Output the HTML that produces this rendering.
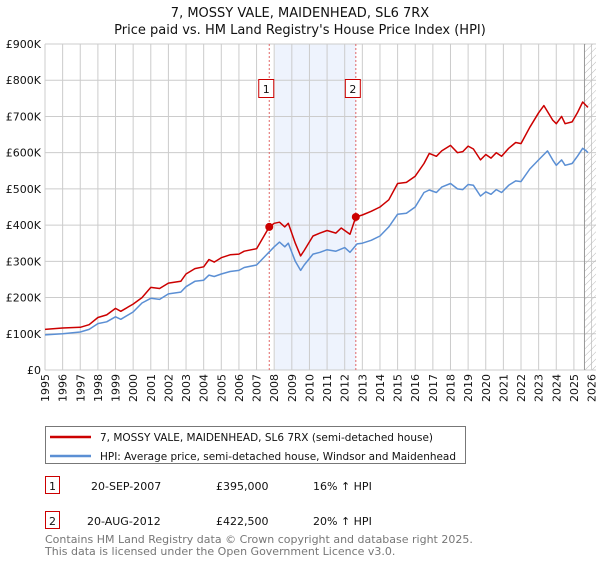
<!DOCTYPE html>
<html><head><meta charset="utf-8"><style>
body{margin:0;background:#fff;font-family:"Liberation Sans","DejaVu Sans",sans-serif}
svg text{font-family:"DejaVu Sans","Liberation Sans",sans-serif}
</style></head><body>
<svg id="c" width="600" height="560" xmlns="http://www.w3.org/2000/svg">
<defs><pattern id="hatch" width="5" height="5" patternUnits="userSpaceOnUse" patternTransform="rotate(45)"><line x1="0" y1="0" x2="0" y2="5" stroke="#bbb" stroke-width="1"/></pattern></defs>
<text x="300" y="17" text-anchor="middle" font-size="13" fill="#111">7, MOSSY VALE, MAIDENHEAD, SL6 7RX</text>
<text x="300" y="34" text-anchor="middle" font-size="13" fill="#111">Price paid vs. HM Land Registry's House Price Index (HPI)</text>
<g id="grid"></g><g id="marks"></g>
<g>
<rect x="45.5" y="426.5" width="420" height="37" fill="#fff" stroke="#777"/>
<line x1="50" y1="437" x2="91" y2="437" stroke="#cc0000" stroke-width="2.5"/>
<text x="100" y="441" font-size="11" fill="#111" textLength="333" lengthAdjust="spacingAndGlyphs">7, MOSSY VALE, MAIDENHEAD, SL6 7RX (semi-detached house)</text>
<line x1="50" y1="456" x2="91" y2="456" stroke="#5b8fd4" stroke-width="2.5"/>
<text x="100" y="460" font-size="11" fill="#111" textLength="356" lengthAdjust="spacingAndGlyphs">HPI: Average price, semi-detached house, Windsor and Maidenhead</text>
</g>
<g font-size="11" fill="#111">
<rect x="45.5" y="476.5" width="14" height="17" fill="#fff" stroke="#cc0000"/>
<text x="52.5" y="490" text-anchor="middle">1</text>
<text x="91" y="490">20-SEP-2007</text>
<text x="216" y="490">£395,000</text>
<text x="313" y="490">16% ↑ HPI</text>
<rect x="45.5" y="511.5" width="14" height="17" fill="#fff" stroke="#cc0000"/>
<text x="52.5" y="525" text-anchor="middle">2</text>
<text x="87" y="525">20-AUG-2012</text>
<text x="216" y="525">£422,500</text>
<text x="313" y="525">20% ↑ HPI</text>
</g>
<text x="45" y="543" font-size="11" fill="#777">Contains HM Land Registry data © Crown copyright and database right 2025.</text>
<text x="45" y="555" font-size="11" fill="#777">This data is licensed under the Open Government Licence v3.0.</text>
</svg>
<script>
const yTicks=[0,100,200,300,400,500,600,700,800,900];
const yTickLabels=["£0","£100K","£200K","£300K","£400K","£500K","£600K","£700K","£800K","£900K"];
const xYears=[1995,1996,1997,1998,1999,2000,2001,2002,2003,2004,2005,2006,2007,2008,2009,2010,2011,2012,2013,2014,2015,2016,2017,2018,2019,2020,2021,2022,2023,2024,2025,2026];
const hpiT=[1995,1996,1997,1997.5,1998,1998.5,1999,1999.3,2000,2000.5,2001,2001.5,2002,2002.7,2003,2003.5,2004,2004.3,2004.6,2005,2005.5,2006,2006.3,2007,2007.5,2008,2008.3,2008.6,2008.8,2009.2,2009.5,2009.7,2010.2,2010.6,2011,2011.5,2012,2012.3,2012.7,2013,2013.5,2014,2014.5,2015,2015.5,2016,2016.5,2016.8,2017.2,2017.5,2018,2018.4,2018.7,2019,2019.3,2019.7,2020,2020.3,2020.6,2020.9,2021.3,2021.7,2022,2022.5,2023,2023.5,2023.8,2024,2024.3,2024.5,2024.9,2025.2,2025.5,2025.7,2025.8];
const hpiV=[97,100,105,112,128,133,147,140,160,185,198,195,210,215,230,245,248,262,258,265,272,275,283,290,315,340,353,340,350,300,275,290,320,325,332,328,338,325,348,350,358,370,395,430,433,450,490,497,490,505,515,500,498,512,510,480,492,485,498,490,510,522,520,555,580,605,580,565,580,565,570,590,612,605,600];
const priceT=[1995,1996,1997,1997.5,1998,1998.5,1999,1999.3,2000,2000.5,2001,2001.5,2002,2002.7,2003,2003.5,2004,2004.3,2004.6,2005,2005.5,2006,2006.3,2007,2007.72,2008,2008.3,2008.6,2008.8,2009.2,2009.5,2009.7,2010.2,2010.6,2011,2011.5,2011.8,2012.3,2012.63,2013,2013.5,2014,2014.5,2015,2015.5,2016,2016.5,2016.8,2017.2,2017.5,2018,2018.4,2018.7,2019,2019.3,2019.7,2020,2020.3,2020.6,2020.9,2021.3,2021.7,2022,2022.5,2023,2023.3,2023.8,2024,2024.3,2024.5,2024.9,2025.2,2025.5,2025.7,2025.8];
const priceV=[112,116,118,125,145,152,170,162,182,200,228,225,240,245,265,280,285,305,298,310,318,320,328,335,395,405,408,395,405,350,315,330,370,378,385,378,392,375,422.5,428,438,450,470,515,518,535,570,598,590,605,620,600,603,618,610,580,595,585,600,590,612,628,625,670,710,730,690,680,700,680,685,710,740,730,725];
const saleT=[2007.72,2012.63];
const saleV=[395,422.5];
const saleLabels=["1","2"];
const shadeRange=[2008.05,2012.63];
const hatchStart=2025.6;

const NS="http://www.w3.org/2000/svg";
const L=45,R=596,T=44,B=370;
const X=t=>L+(t-1995)*17.63;
const Y=v=>B-(v/900)*(B-T);
function mk(tag,attrs,parent){const e=document.createElementNS(NS,tag);for(const k in attrs)e.setAttribute(k,attrs[k]);parent.appendChild(e);return e;}
const g=document.getElementById('grid'),m=document.getElementById('marks');
let sh=mk('rect',{x:X(shadeRange[0]),y:T,width:X(shadeRange[1])-X(shadeRange[0]),height:B-T,fill:'#eef3fd'},g);


yTicks.forEach((v,i)=>{
  let ln=mk('line',{x1:L,x2:R,y1:Y(v),y2:Y(v),stroke:'#ccc'},g);
  
  
  let tx=mk('text',{x:L-4,y:Y(v)+4,'text-anchor':'end','font-size':'11',fill:'#111'},g);
  tx.textContent=yTickLabels[i];
  
  
});
xYears.forEach(yr=>{
  let ln=mk('line',{x1:X(yr),x2:X(yr),y1:T,y2:B,stroke:'#ccc'},g);
  
  
  let tx=mk('text',{x:0,y:0,'text-anchor':'end','font-size':'11',fill:'#111',transform:`translate(${X(yr)+4},374) rotate(-90)`},g);
  tx.textContent=yr;
  
  
});
let ht=mk('rect',{x:X(hatchStart),y:T,width:R-X(hatchStart),height:B-T,fill:'url(#hatch)'},g);


let hl=mk('line',{x1:X(hatchStart),x2:X(hatchStart),y1:T,y2:B,stroke:'#999'},g);


saleT.forEach((t,i)=>{
  let vl=mk('line',{x1:X(t),x2:X(t),y1:T,y2:B,stroke:'#e06666','stroke-dasharray':'2,2'},m);
  
  
});
function path(ts,vs,col,name){
  let d=ts.map((t,i)=>(i?'L':'M')+X(t).toFixed(1)+','+Y(vs[i]).toFixed(1)).join('');
  let p=mk('path',{d:d,fill:'none',stroke:col,'stroke-width':'1.5','stroke-linejoin':'round'},m);
  
  
}
path(hpiT,hpiV,'#5b8fd4','hpi-line');
path(priceT,priceV,'#cc0000','price-line');
saleT.forEach((t,i)=>{
  let c=mk('circle',{cx:X(t),cy:Y(saleV[i]),r:4,fill:'#cc0000'},m);
  
  
  let bx=mk('rect',{x:X(t)-10.5,y:79.5,width:15,height:18,fill:'#fff',stroke:'#cc0000'},m);
  
  
  let tx=mk('text',{x:X(t)-3,y:93,'text-anchor':'middle','font-size':'11',fill:'#111'},m);
  tx.textContent=saleLabels[i];
  
  
});
</script>
</body></html>
